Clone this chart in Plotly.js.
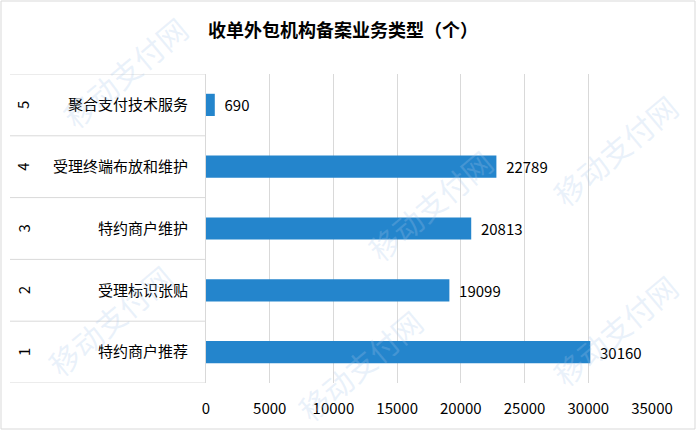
<!DOCTYPE html>
<html>
<head>
<meta charset="utf-8">
<script src="https://cdn.plot.ly/plotly-3.0.1.min.js"></script>
<style>html,body{margin:0;padding:0;background:#fff;}#chart{width:696px;height:430px;}</style>
</head>
<body>
<div id="chart"></div>
<script>
const categories = ['特约商户推荐', '受理标识张贴', '特约商户维护', '受理终端布放和维护', '聚合支付技术服务'];
const indexLabels = ['1', '2', '3', '4', '5'];
const values = [30160, 19099, 20813, 22789, 690];
const titleText = '收单外包机构备案业务类型（个）';
const watermark = '移动支付网';

const FONT = '"Noto Sans CJK SC", "Noto Sans", sans-serif';
const W = 696, H = 430, L = 206, R = 44, T = 74, B = 47;
const pw = W - L - R, ph = H - T - B;
const px = x => (x - L) / pw;
const py = y => (H - B - y) / ph;

const shapes = [];
// category divider lines
for (let i = 0; i <= categories.length; i++) {
  shapes.push({type: 'line', xref: 'paper', yref: 'y', x0: px(10), x1: 0, y0: i - 0.5, y1: i - 0.5,
    line: {color: '#d9d9d9', width: 1}});
}
// outer border
shapes.push({type: 'rect', xref: 'paper', yref: 'paper', x0: px(1), x1: px(695), y0: py(429), y1: py(1),
  line: {color: '#d9d9d9', width: 1}, fillcolor: 'rgba(0,0,0,0)', layer: 'below'});

const annotations = indexLabels.map((t, i) => ({
  text: t, xref: 'paper', yref: 'y', x: px(23), y: i, showarrow: false, textangle: -90,
  font: {family: FONT, size: 15, color: '#000'}, xanchor: 'center', yanchor: 'middle'
}));

// faint watermarks
const wm = [[125, 72], [615, 150], [430, 205], [110, 320], [615, 330], [360, 365]];
wm.forEach(p => annotations.push({
  text: watermark, xref: 'paper', yref: 'paper', x: px(p[0]), y: py(p[1]), showarrow: false,
  textangle: -40, font: {family: FONT, size: 30, color: 'rgba(170,200,235,0.25)'},
  xanchor: 'center', yanchor: 'middle'
}));

const trace = {
  type: 'bar', orientation: 'h', x: values, y: categories,
  marker: {color: '#2485cc'}, width: 0.36,
  text: values.map(v => '  ' + v), textposition: 'outside', cliponaxis: false,
  textfont: {family: FONT, size: 15, color: '#000'}, hoverinfo: 'none'
};

const layout = {
  width: W, height: H,
  margin: {l: L, r: R, t: T, b: B, pad: 0},
  paper_bgcolor: '#fff', plot_bgcolor: '#fff',
  title: {text: titleText, x: 343 / W, xanchor: 'center', y: 1 - 31 / H, yanchor: 'middle',
    font: {family: FONT, size: 18, color: '#000', weight: 'bold'}},
  showlegend: false,
  xaxis: {range: [0, 35000], dtick: 5000, tick0: 0, tickformat: 'd', showgrid: true, gridcolor: '#d9d9d9', gridwidth: 1,
    zeroline: false, showline: false, ticks: 'outside', ticklen: 12, tickcolor: 'rgba(0,0,0,0)',
    tickfont: {family: FONT, size: 15, color: '#000'}, fixedrange: true},
  yaxis: {type: 'category', categoryorder: 'array', categoryarray: categories, range: [-0.5, 4.5],
    showline: true, linecolor: '#d9d9d9', linewidth: 1, showgrid: false, zeroline: false,
    ticks: 'outside', ticklen: 14, tickcolor: 'rgba(0,0,0,0)',
    tickfont: {family: FONT, size: 15, color: '#000'}, fixedrange: true},
  shapes: shapes, annotations: annotations
};

Plotly.newPlot('chart', [trace], layout, {displayModeBar: false, staticPlot: true});
</script>
</body>
</html>
